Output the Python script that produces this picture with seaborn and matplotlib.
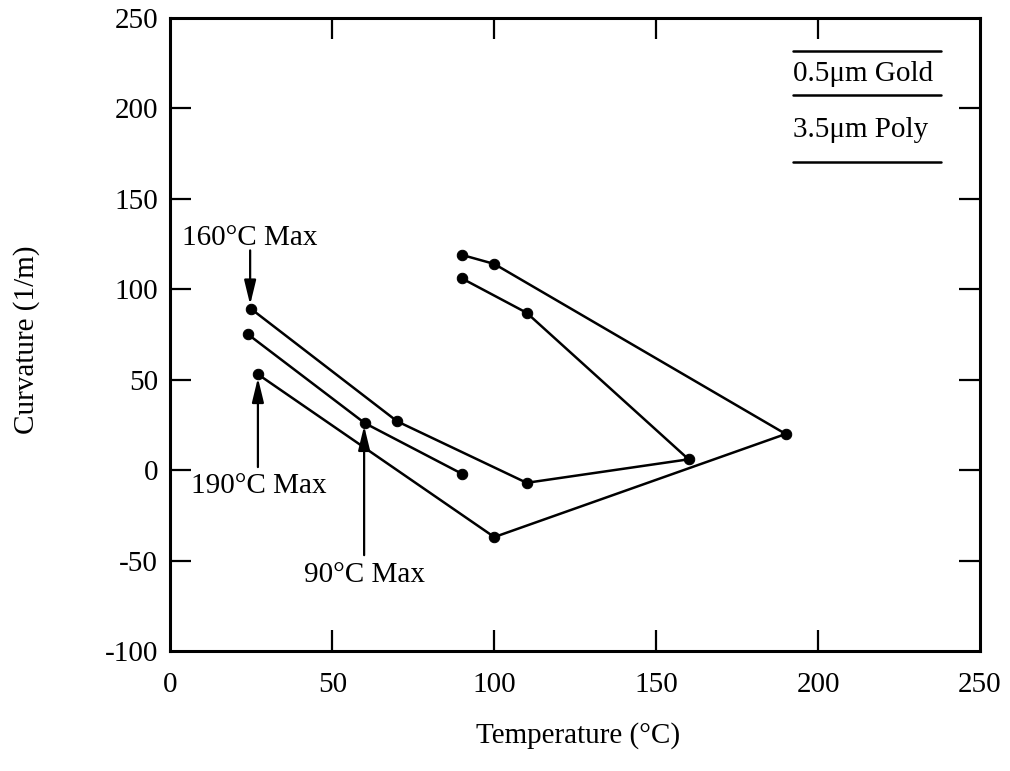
import numpy as np
import pandas as pd
import matplotlib
matplotlib.use("Agg")
import matplotlib.pyplot as plt
import seaborn as sns

# curvature vs temperature for three thermal cycles
temp_160 = [25, 70, 110, 160, 110, 90]
curv_160 = [89, 27, -7, 6, 87, 106]
temp_190 = [27, 100, 190, 100, 90]
curv_190 = [53, -37, 20, 114, 119]
temp_90 = [24, 60, 90]
curv_90 = [75, 26, -2]

run_names = ["160°C Max", "190°C Max", "90°C Max"]
x_ticks = [0, 50, 100, 150, 200, 250]
y_ticks = [-100, -50, 0, 50, 100, 150, 200, 250]

df = pd.concat([
    pd.DataFrame({"temp": temp_160, "curv": curv_160, "run": run_names[0]}),
    pd.DataFrame({"temp": temp_190, "curv": curv_190, "run": run_names[1]}),
    pd.DataFrame({"temp": temp_90, "curv": curv_90, "run": run_names[2]}),
], ignore_index=True)

sns.set_style("ticks")
plt.rcParams['font.family'] = ['Liberation Serif', 'DejaVu Serif']
plt.rcParams['font.size'] = 21
plt.rcParams['axes.unicode_minus'] = False
plt.rcParams['text.color'] = 'black'

fig = plt.figure(figsize=(10.10, 7.71), dpi=100)
ax = fig.add_axes([0.1688, 0.1556, 0.8015, 0.8211])

sns.lineplot(data=df, x="temp", y="curv", hue="run", sort=False, estimator=None,
             palette={r: "black" for r in run_names}, marker="o", markersize=7.5,
             markeredgecolor="black", linewidth=1.8, legend=False, ax=ax)

ax.set_xlim(0, 250)
ax.set_ylim(-100, 250)
ax.set_xticks(x_ticks)
ax.set_yticks(y_ticks)
ax.set_xlabel("")
ax.set_ylabel("")
ax.tick_params(direction="in", length=15, width=1.6, top=True, right=True,
               labelsize=21, colors="black")
ax.tick_params(axis="x", pad=15)
ax.tick_params(axis="y", pad=9)
# hide the end ticks that sit on the frame corners
for t in ax.xaxis.get_major_ticks()[0::len(x_ticks) - 1]:
    t.tick1line.set_visible(False)
    t.tick2line.set_visible(False)
for t in ax.yaxis.get_major_ticks()[0::len(y_ticks) - 1]:
    t.tick1line.set_visible(False)
    t.tick2line.set_visible(False)
for s in ax.spines.values():
    s.set_linewidth(2.2)
    s.set_color("black")

# annotations with arrows
arrow = dict(arrowstyle="-|>,head_length=0.7,head_width=0.17", color="black",
             lw=1.6, shrinkA=0, shrinkB=0)
ax.text(24.6, 124.4, "160°C Max", ha="center", va="baseline")
ax.annotate("", xy=(24.6, 91.5), xytext=(24.6, 121.5), arrowprops=arrow)
ax.text(27.3, -12.7, "190°C Max", ha="center", va="baseline")
ax.annotate("", xy=(27.0, 51.0), xytext=(27.0, 1.7), arrowprops=arrow)
ax.text(60.0, -61.9, "90°C Max", ha="center", va="baseline")
ax.annotate("", xy=(59.8, 24.5), xytext=(59.8, -47.0), arrowprops=arrow)

# layer stack sketch in the top right corner
for yy in [231.6, 207.3, 170.3]:
    ax.plot([192.2, 238.0], [yy, yy], color="black", lw=1.8)
ax.text(192.4, 215.0, "0.5μm Gold", ha="left", va="baseline")
ax.text(192.4, 184.0, "3.5μm Poly", ha="left", va="baseline")

fig.text(0.572, 0.0363, "Temperature (°C)", ha="center", va="baseline", fontsize=21)
fig.text(0.026, 0.559, "Curvature (1/m)", ha="center", va="center", rotation=90, fontsize=21)

fig.savefig("out.png", dpi=100, facecolor="white")
